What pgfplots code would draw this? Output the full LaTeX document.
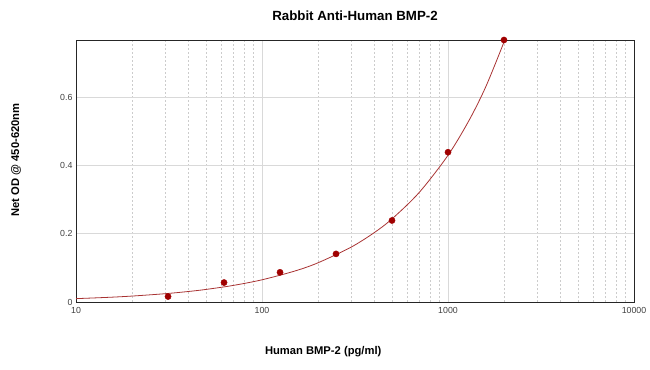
\documentclass[border=0pt]{standalone}
\usepackage{pgfplots}
\pgfplotsset{compat=1.18}
\usepackage{fontspec}
\setmainfont{Liberation Sans}
\definecolor{ptred}{HTML}{A00000}
\definecolor{curvered}{HTML}{A83232}
\begin{document}
\begin{tikzpicture}
\useasboundingbox (-76bp,-68bp) rectangle (574bp,302bp);
\begin{axis}[
  at={(0,0)}, anchor=south west,
  scale only axis, width=558bp, height=262bp,
  xmode=log, xmin=10, xmax=10000,
  ymin=0, ymax=0.768,
  xtick={10,100,1000,10000}, xticklabels={10,100,1000,10000},
  ytick={0,0.2,0.4,0.6}, yticklabels={0,0.2,0.4,0.6},
  grid=both,
  major grid style={draw=black!15, line width=0.6pt},
  minor grid style={draw=black!20, dash pattern=on 2bp off 2bp, line width=0.4pt},
  major tick length=0pt, minor tick length=0pt,
  axis line style={draw=black!85, line width=0.8pt},
  tick label style={font=\fontsize{8.8bp}{10bp}\selectfont, text=black!75},
  xticklabel style={yshift=-1.5bp},
  title={\textbf{Rabbit Anti-Human BMP-2}},
  title style={font=\fontsize{13.3bp}{15bp}\selectfont, at={(axis description cs:0.5,1)}, anchor=center, yshift=18bp},
  xlabel={\textbf{Human BMP-2 (pg/ml)}},
  xlabel style={font=\fontsize{11.2bp}{13bp}\selectfont, at={(axis description cs:0.443,0)}, anchor=center, yshift=-50bp},
  ylabel={\textbf{Net OD @ 450-620nm}},
  ylabel style={font=\fontsize{11.2bp}{13bp}\selectfont, at={(axis description cs:-0.1075,0.542)}, anchor=center},
]
\addplot[curvered, line width=0.8pt, smooth, no markers] coordinates {
 (10,0.00985) (15,0.01373) (20,0.01739) (30,0.02424) (40,0.03068) (50,0.03685)
 (70,0.04855) (100,0.06506) (150,0.09073) (200,0.1149) (300,0.1602) (400,0.2028)
 (500,0.2436) (700,0.3210) (1000,0.43) (1300,0.5332) (1600,0.6322) (2000,0.762)
};
\addplot[only marks, mark=*, mark size=3.1bp, ptred, mark options={fill=ptred, draw=ptred}] coordinates {
 (31.25,0.016) (62.5,0.057) (125,0.087) (250,0.141) (500,0.239) (1000,0.439) (2000,0.768)
};
\end{axis}
\end{tikzpicture}
\end{document}
